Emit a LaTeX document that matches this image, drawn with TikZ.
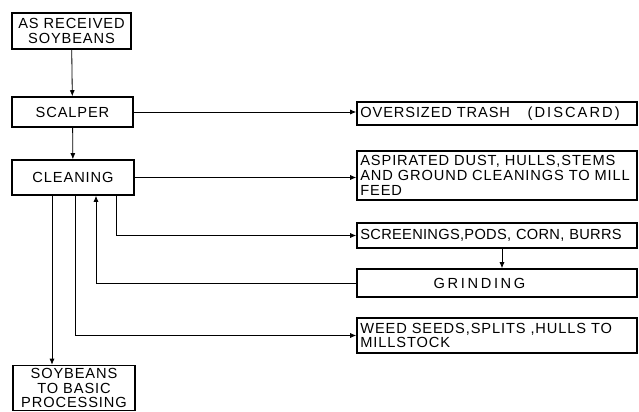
\documentclass[tikz,border=0pt]{standalone}
\usepackage{fontspec}
\setmainfont[LetterSpace=6]{Liberation Sans}
\usetikzlibrary{arrows.meta,calc}
\newcommand{\wide}[2][20]{{\addfontfeature{LetterSpace=#1}#2}}
\tikzset{
  box/.style={draw, line width=1.3pt, inner sep=2pt, inner xsep=0.1cm, font=\fontsize{12.5}{12.6}\selectfont, fill=white},
  lbox/.style={box, align=center, minimum width=3.66cm},
  rbox/.style={box, text width=8.2cm, align=left},
  ln/.style={line width=0.7pt},
  ar/.style={ln, -{Latex[length=1.8mm,width=1.5mm]}},
}
\begin{document}
\begin{tikzpicture}
\useasboundingbox (0,0) rectangle (19.17,12.36);
\node[lbox, minimum width=3.57cm, minimum height=1.08cm] (recv) at (2.145,11.43) {AS RECEIVED\\ SOYBEANS};
\node[lbox, minimum width=3.63cm, minimum height=0.9cm] (scal) at (2.175,9.0) {SCALPER};
\node[lbox, minimum height=1.05cm] (clean) at (2.19,7.035) {CLEANING};
\node[lbox, minimum height=1.35cm] (soy) at (2.22,0.72) {SOYBEANS\\TO BASIC\\PROCESSING};
\node[rbox, minimum height=0.69cm] (over) at (14.91,8.955) {OVERSIZED TRASH\hspace{1.2em}\wide[14]{(DISCARD)}};
\node[rbox, minimum height=1.47cm] (asp) at (14.91,7.095) {ASPIRATED DUST, HULLS,STEMS\\AND GROUND CLEANINGS TO MILL\\FEED};
\node[rbox, minimum height=0.75cm] (scr) at (14.91,5.295) {\mbox{\wide[2]{SCREENINGS,PODS, CORN, BURRS}}};
\node[rbox, minimum height=0.84cm] (grind) at (14.91,3.87) {\hspace*{2.2cm}\wide[18]{GRINDING}};
\node[rbox, minimum height=1.05cm] (weed) at (14.91,2.295) {WEED SEEDS,SPLITS ,HULLS TO\\MILLSTOCK};
\draw[ar] (recv) -- (scal); \draw[ar] (scal) -- (clean);
\draw[ar] (scal.east) -- (scal.east -| over.west); \draw[ar] (clean.east) -- (clean.east -| asp.west);
\draw[ar] ([xshift=1.29cm]clean.south) |- (scr.west);
\draw[ar] (scr.south -| 15.06,0) -- (grind.north -| 15.06,0);
\draw[ar] (grind.west) -| ([xshift=0.69cm]clean.south);
\draw[ar] ([xshift=0.06cm]clean.south) |- (weed.west);
\draw[ar] ([xshift=-0.63cm]clean.south) -- ([xshift=-0.63cm]clean.south |- soy.north);
\end{tikzpicture}
\end{document}
